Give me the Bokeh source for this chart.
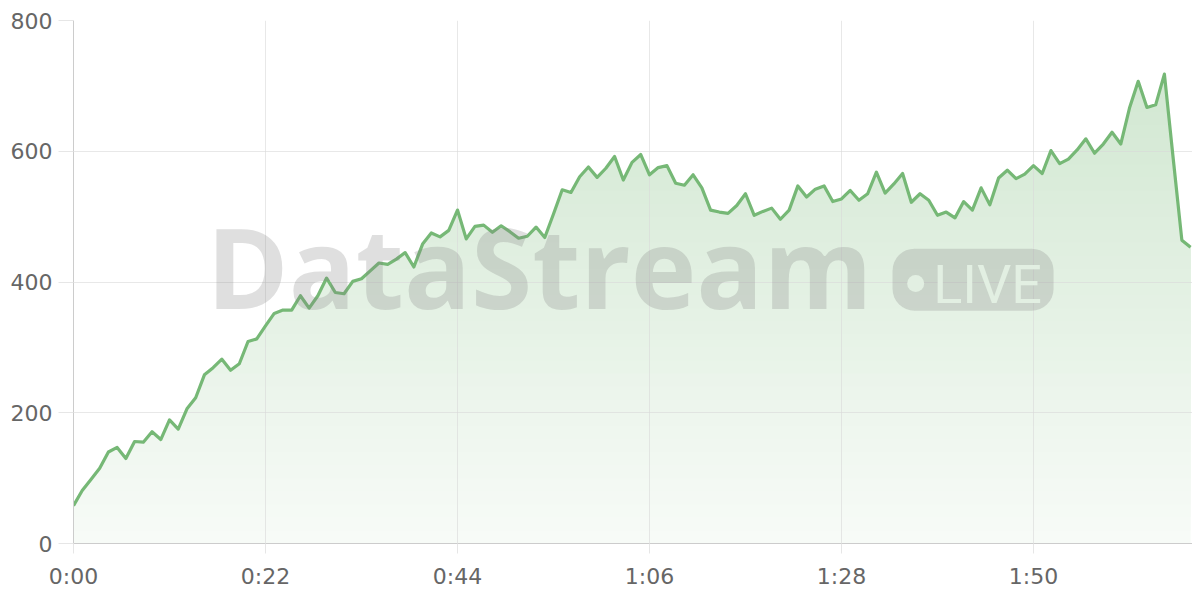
import numpy as np
from bokeh.plotting import figure
from bokeh.models import Range1d, FixedTicker, Label
from bokeh.embed import file_html
from bokeh.resources import INLINE

# ---- data ----
seconds = list(range(129))
viewers = [
    58, 81, 98, 115, 140, 147, 130, 156, 155, 171,
    159, 189, 175, 206, 223, 258, 269, 282, 265, 275,
    309, 313, 333, 352, 357, 357, 379, 360, 379, 406,
    384, 382, 401, 405, 417, 429, 427, 435, 445, 423,
    458, 475, 469, 479, 510, 466, 485, 487, 476, 486,
    477, 467, 470, 484, 468, 504, 541, 537, 561, 576,
    560, 574, 592, 556, 583, 595, 564, 575, 578, 551,
    548, 564, 544, 510, 507, 505, 517, 535, 502, 508,
    513, 496, 510, 547, 530, 542, 547, 523, 527, 540,
    525, 535, 568, 536, 550, 566, 522, 535, 525, 502,
    507, 498, 523, 510, 544, 518, 559, 571, 558, 565,
    578, 566, 601, 581, 588, 602, 619, 597, 611, 629,
    611, 666, 707, 667, 671, 718, 590, 464, 453,
]
x_tick_values = [0, 22, 44, 66, 88, 110]
x_tick_labels = ["0:00", "0:22", "0:44", "1:06", "1:28", "1:50"]
y_tick_values = [0, 200, 400, 600, 800]

GREEN = "#76b876"
GREEN_RGB = (118, 184, 118)

p = figure(width=1192, height=592, output_backend="svg", toolbar_location=None,
           x_range=Range1d(0, 128.22), y_range=Range1d(0, 800),
           min_border_left=73, min_border_right=0, min_border_top=20,
           min_border_bottom=49)
p.outline_line_color = None
p.background_fill_color = "white"
p.border_fill_color = "white"

# ---- gradient area fill (opaque layers stacked bottom-up, below the grid) ----
x = np.array(seconds, dtype=float)
y = np.array(viewers, dtype=float)
levels = np.arange(0, 761, 20.0)
xs = list(x)
for i in range(len(x) - 1):
    y0, y1 = y[i], y[i + 1]
    for L in levels:
        if (L - y0) * (L - y1) < 0:
            xs.append(x[i] + (L - y0) / (y1 - y0) * (x[i + 1] - x[i]))
xs = np.unique(np.array(xs))
ys = np.interp(xs, x, y)


def opacity(v):
    return 0.052 + 0.00039 * v


def blend(alpha):
    r, g, b = (int(round(255 - alpha * (255 - c))) for c in GREEN_RGB)
    return "#%02x%02x%02x" % (r, g, b)


for a in levels[:-1]:
    if not np.any(ys > a):
        continue
    r = p.varea(x=xs, y1=np.full_like(xs, a), y2=np.maximum(ys, a),
                fill_color=blend(opacity(a + 10)), fill_alpha=1.0)
    r.level = "image"

p.line(x, y, line_color=GREEN, line_width=3.2, line_join="round")

# ---- axes & grid ----
p.xaxis.ticker = FixedTicker(ticks=x_tick_values)
p.xaxis.major_label_overrides = {v: s for v, s in zip(x_tick_values, x_tick_labels)}
p.yaxis.ticker = FixedTicker(ticks=y_tick_values)
p.grid.grid_line_color = "#d9d9d9"
p.grid.grid_line_alpha = 0.6
p.grid.grid_line_width = 1
p.axis.axis_line_color = "#cccccc"
p.axis.axis_line_width = 1
p.axis.minor_tick_line_color = None
p.axis.major_tick_line_color = "#e6e6e6"
p.axis.major_tick_in = 0
p.xaxis.major_tick_out = 10
p.yaxis.major_tick_out = 15
p.axis.major_label_text_font = "DejaVu Sans"
p.axis.major_label_text_font_size = "22px"
p.axis.major_label_text_color = "#666666"
p.yaxis.major_label_standoff = 6
p.xaxis.major_label_standoff = 10

# ---- watermark ----
p.add_layout(Label(x=15.25, y=425, text="DataStream", text_font="Open Sans",
                   text_font_style="bold", text_font_size="111px",
                   text_color="#808080", text_alpha=0.25,
                   text_baseline="alphabetic", text_align="left"))
p.quad(left=[93.85], right=[112.3], top=[451], bottom=[356],
       fill_color="#808080", fill_alpha=0.25, line_color=None, border_radius=22)
p.scatter(x=[96.5], y=[397.6], size=17, fill_color="#e2efe2", line_color=None)
p.add_layout(Label(x=98.5, y=396, text="LIVE", text_font="Roboto",
                   text_font_size="54px", text_color="#e2efe2",
                   text_baseline="alphabetic", text_align="left"))

open("out.html", "w").write(file_html(p, INLINE))
